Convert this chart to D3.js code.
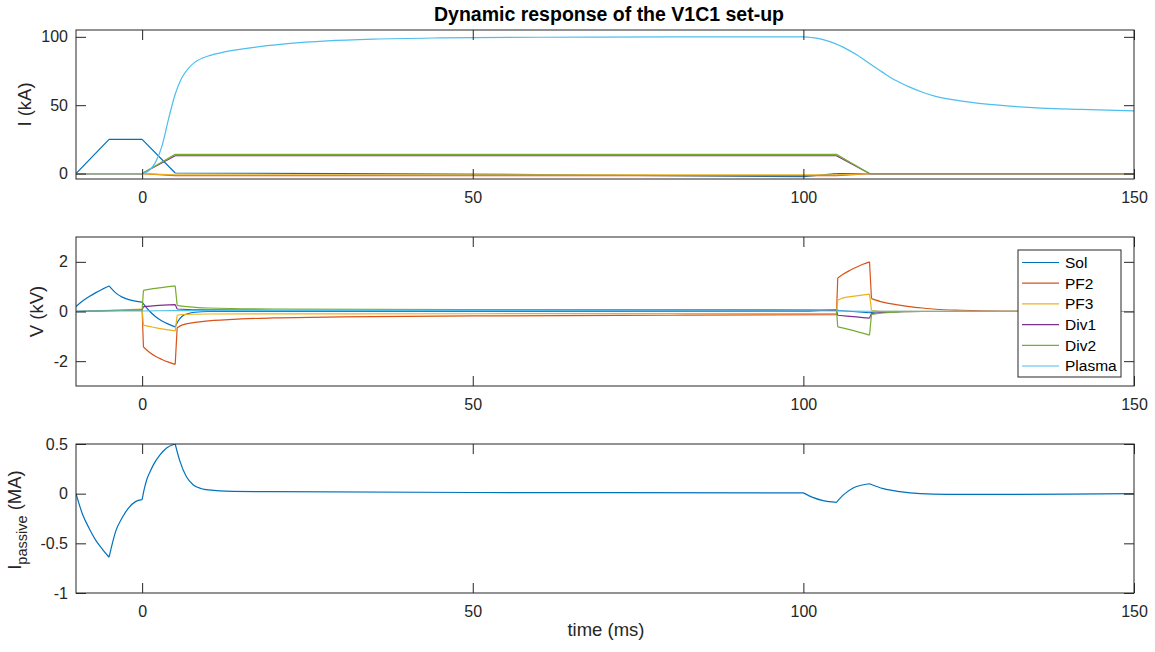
<!DOCTYPE html>
<html>
<head>
<meta charset="utf-8">
<script src="https://cdn.jsdelivr.net/npm/d3@7"></script>
<style>
  body { margin: 0; background: #fff; }
  svg { font-family: "Liberation Sans", Arial, Helvetica, sans-serif; }
</style>
</head>
<body>
<svg id="chart"></svg>
<script>
const width = 1155;
const height = 652;

const seriesNames = ["Sol", "PF2", "PF3", "Div1", "Div2", "Plasma"];
const seriesColors = ["#0072BD", "#D95319", "#EDB120", "#7E2F8E", "#77AC30", "#4DBEEE"];
const timeTicks = [0, 50, 100, 150];

// top panel: coil currents (kA)
const iSol = [[-10, 0], [-5, 25], [0, 25], [5, 0.4], [30, 0], [60, -0.8], [100, -2.3], [105, 0], [150, 0]];
const iPF2 = [[-10, 0], [0, 0], [5, -1.5], [105, -1.5], [110, 0], [150, 0]];
const iPF3 = [[-10, 0], [0, 0], [5, -1], [105, -1], [110, 0], [150, 0]];
const iDiv1 = [[-10, 0], [0, 0], [5, 13], [105, 13], [110, 0], [150, 0]];
const iDiv2 = [[-10, 0], [0, 0], [5, 14], [105, 14], [110, 0], [150, 0]];
const iPlasma = [[-10, 0], [0, 0], [1, 2], [2, 8], [3, 20], [4, 40], [5, 58], [6, 70], [7, 77], [8, 81.5],
  [10, 86], [12, 88.5], [15, 91], [18, 93], [22, 95], [28, 97], [35, 98.3], [45, 99.2], [60, 99.7],
  [80, 99.9], [100, 100], [102, 99], [104, 96.5], [106, 92.5], [108, 87], [110, 80.5], [112, 74],
  [114, 68], [116, 63.4], [118, 59.5], [120, 56.5], [124, 53], [130, 49.8], [136, 47.9], [142, 46.9], [150, 45.8]];
const iTicks = [0, 50, 100];

// middle panel: coil voltages (kV)
const vSol = [[-10, 0.2], [-9, 0.42], [-8, 0.6], [-7, 0.76], [-6, 0.9], [-5, 1.03], [-4, 0.75], [-3, 0.58],
  [-2, 0.48], [-1, 0.42], [0, 0.38], [1, 0.05], [2, -0.2], [3, -0.38], [4, -0.51], [5, -0.62], [5.4, -0.4],
  [6, -0.2], [7, -0.08], [8, -0.03], [10, 0], [100, 0.01], [105, 0.08], [105.3, 0.04], [110, -0.05],
  [111, -0.02], [115, 0], [150, 0]];
const vPF2 = [[-10, 0], [0, 0.08], [0.2, -1.43], [1, -1.62], [2, -1.8], [3, -1.93], [4, -2.04], [5, -2.13],
  [5.3, -0.65], [6, -0.55], [8, -0.44], [10, -0.38], [15, -0.3], [20, -0.26], [30, -0.22], [50, -0.18],
  [80, -0.15], [105, -0.13], [105.2, 1.35], [106, 1.5], [107, 1.65], [108, 1.78], [109, 1.9], [110, 2.0],
  [110.3, 0.52], [112, 0.38], [114, 0.28], [116, 0.2], [118, 0.14], [120, 0.09], [124, 0.05], [130, 0.02], [150, 0]];
const vPF3 = [[-10, 0], [0, 0.1], [0.2, -0.55], [1, -0.6], [2, -0.65], [3, -0.7], [4, -0.74], [5, -0.78],
  [5.3, -0.15], [6, -0.12], [10, -0.1], [50, -0.09], [105, -0.08], [105.2, 0.45], [106, 0.55], [108, 0.63],
  [110, 0.7], [110.3, 0.05], [112, 0.01], [150, 0]];
const vDiv1 = [[-10, 0], [0, 0.06], [0.2, 0.2], [2, 0.24], [5, 0.28], [5.3, 0.1], [8, 0.07], [20, 0.05],
  [105, 0.04], [105.2, -0.15], [108, -0.22], [110, -0.27], [110.3, -0.08], [112, -0.04], [118, 0], [150, 0]];
const vDiv2 = [[-10, 0], [0, 0.06], [0.2, 0.85], [2, 0.93], [4, 1.0], [5, 1.03], [5.3, 0.25], [6, 0.22],
  [8, 0.17], [10, 0.14], [20, 0.1], [50, 0.08], [105, 0.07], [105.2, -0.62], [108, -0.8], [110, -0.95],
  [110.3, -0.12], [112, -0.06], [118, 0], [150, 0]];
const vPlasma = [[-10, 0.02], [0, 0.02], [5, 0.04], [100, 0.03], [110, 0.01], [150, 0]];
const vTicks = [-2, 0, 2];

// bottom panel: passive structure current (MA)
const iPassive = [[-10, 0], [-9, -0.21], [-8, -0.35], [-7, -0.47], [-6, -0.56], [-5, -0.64], [-4.5, -0.5],
  [-4, -0.38], [-3, -0.24], [-2, -0.14], [-1, -0.08], [0, -0.06], [0.3, 0.04], [0.7, 0.14], [1.2, 0.22],
  [1.7, 0.29], [2.7, 0.39], [3.7, 0.46], [5, 0.5], [5.7, 0.33], [6.7, 0.17], [7.7, 0.09], [9, 0.05],
  [10, 0.038], [13.7, 0.023], [20, 0.02], [50, 0.012], [100, 0.008], [101.5, -0.04], [103, -0.07],
  [105, -0.087], [106.1, -0.01], [107.6, 0.06], [110, 0.1], [112.1, 0.05], [114.6, 0.02], [117.7, 0],
  [121.7, -0.007], [130, -0.008], [140, -0.004], [150, 0]];
const pTicks = [-1, -0.5, 0, 0.5];

// sharp corners in each curve
const rampKinks = [-5, 0, 5, 30, 60, 100, 105, 110];
const vKinks = [-5, 0, 0.2, 5, 5.3, 105, 105.2, 105.3, 110, 110.3];
const plasmaKinks = [0, 100];
const passiveKinks = [-5, 0, 5, 100, 105, 110];

const svg = d3.select("#chart")
  .attr("width", width)
  .attr("height", height);

const x = d3.scaleLinear().domain([-10, 150]).range([76, 1134]);
const ink = "#262626";

function pieces(pts, kinks) {
  const out = [];
  let cur = [];
  pts.forEach(p => {
    cur.push(p);
    if (kinks.includes(p[0]) && cur.length > 1) {
      out.push(cur);
      cur = [p];
    }
  });
  if (cur.length > 1) out.push(cur);
  return out;
}

function panel(id, top, bottom, domain, ticks, series) {
  const y = d3.scaleLinear().domain(domain).range([bottom, top]);
  const g = svg.append("g");

  g.append("clipPath").attr("id", "clip" + id)
    .append("rect")
    .attr("x", x.range()[0]).attr("y", top)
    .attr("width", x.range()[1] - x.range()[0]).attr("height", bottom - top);

  const line = d3.line()
    .x(d => x(d[0]))
    .y(d => y(d[1]))
    .curve(d3.curveMonotoneX);

  const lines = g.append("g").attr("clip-path", `url(#clip${id})`);
  series.forEach(s => {
    lines.append("path")
      .attr("d", pieces(s.data, s.kinks).map(seg => line(seg)).join(""))
      .attr("fill", "none")
      .attr("stroke", s.color)
      .attr("stroke-width", 1.2)
      .attr("stroke-linejoin", "round");
  });

  const fmt = d => String(d);

  const axes = [
    [d3.axisBottom(x).tickValues(timeTicks).tickFormat(fmt).tickPadding(13), 0, bottom],
    [d3.axisTop(x).tickValues(timeTicks).tickFormat(""), 0, top],
    [d3.axisLeft(y).tickValues(ticks).tickFormat(fmt).tickPadding(8), x.range()[0], 0],
    [d3.axisRight(y).tickValues(ticks).tickFormat(""), x.range()[1], 0],
  ];
  axes.forEach(([ax, tx, ty]) => {
    const a = g.append("g")
      .attr("transform", `translate(${tx},${ty})`)
      .call(ax.tickSizeInner(-10).tickSizeOuter(0));
    a.select(".domain").remove();
    a.selectAll("line").attr("stroke", ink).attr("stroke-width", 1);
    a.selectAll("text").attr("fill", ink).style("font-size", "16px")
      .style("font-family", "'Liberation Sans', Arial, sans-serif");
  });

  g.append("rect")
    .attr("x", x.range()[0]).attr("y", top)
    .attr("width", x.range()[1] - x.range()[0]).attr("height", bottom - top)
    .attr("fill", "none")
    .attr("stroke", ink)
    .attr("stroke-width", 1);

  return y;
}

function mk(arrs, kinks) {
  return arrs.map((d, i) => ({ data: d, color: seriesColors[i], kinks: kinks[i] }));
}

panel("I", 30, 179, [-4, 105], iTicks,
  mk([iSol, iPF2, iPF3, iDiv1, iDiv2, iPlasma],
     [rampKinks, rampKinks, rampKinks, rampKinks, rampKinks, plasmaKinks]));

panel("V", 237, 386, [-3, 3], vTicks,
  mk([vSol, vPF2, vPF3, vDiv1, vDiv2, vPlasma],
     [vKinks, vKinks, vKinks, vKinks, vKinks, [0, 5, 100, 110]]));

panel("P", 444, 593, [-1, 0.5], pTicks,
  [{ data: iPassive, color: seriesColors[0], kinks: passiveKinks }]);

// title and axis labels
svg.append("text")
  .attr("x", 609).attr("y", 21)
  .attr("text-anchor", "middle")
  .attr("fill", "#000")
  .style("font-size", "19.5px")
  .style("font-weight", "bold")
  .text("Dynamic response of the V1C1 set-up");

svg.append("text")
  .attr("x", 606).attr("y", 636)
  .attr("text-anchor", "middle")
  .attr("fill", ink)
  .style("font-size", "18.5px")
  .text("time (ms)");

function ylabel(cx, cy, parts) {
  const t = svg.append("text")
    .attr("transform", `translate(${cx},${cy}) rotate(-90)`)
    .attr("text-anchor", "middle")
    .attr("fill", ink)
    .style("font-size", "18.5px");
  parts.forEach(p => {
    t.append("tspan")
      .attr("dy", p.dy || 0)
      .style("font-size", p.size || "18.5px")
      .text(p.text);
  });
}

ylabel(31, 104.5, [{ text: "I (kA)" }]);
ylabel(43, 311.5, [{ text: "V (kV)" }]);
ylabel(21, 520, [
  { text: "I" },
  { text: "passive", size: "14.5px", dy: 6 },
  { text: " (MA)", dy: -6 },
]);

// legend in the voltage panel
const leg = svg.append("g").attr("transform", "translate(1018,250)");
leg.append("rect")
  .attr("width", 103).attr("height", 127)
  .attr("fill", "#fff")
  .attr("stroke", ink)
  .attr("stroke-width", 1);

seriesNames.forEach((name, i) => {
  const yy = 12.5 + i * 20.7;
  leg.append("line")
    .attr("x1", 4).attr("x2", 41)
    .attr("y1", yy).attr("y2", yy)
    .attr("stroke", seriesColors[i])
    .attr("stroke-width", 1.2);
  leg.append("text")
    .attr("x", 47).attr("y", yy)
    .attr("dy", "0.35em")
    .attr("fill", "#000")
    .style("font-size", "15.5px")
    .text(name);
});
</script>
</body>
</html>
